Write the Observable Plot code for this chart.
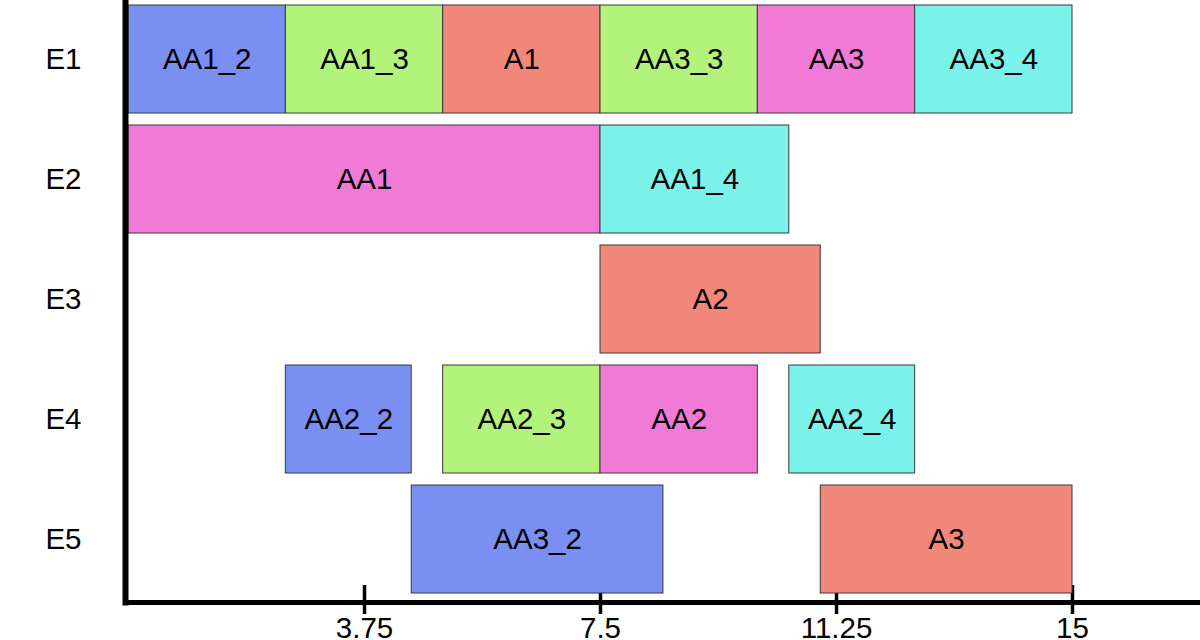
<!DOCTYPE html>
<html>
<head>
<meta charset="utf-8">
<script src="https://cdn.jsdelivr.net/npm/d3@7"></script>
<script src="https://cdn.jsdelivr.net/npm/@observablehq/plot@0.6"></script>
<style>
  html, body { margin: 0; padding: 0; background: #fff; }
  #chart { width: 1200px; height: 640px; }
</style>
</head>
<body>
<div id="chart"></div>
<script>
// Data
const rows   = ["E1","E1","E1","E1","E1","E1","E2","E2","E3","E4","E4","E4","E4","E5","E5"];
const labels = ["AA1_2","AA1_3","A1","AA3_3","AA3","AA3_4","AA1","AA1_4","A2","AA2_2","AA2_3","AA2","AA2_4","AA3_2","A3"];
const starts = [0, 2.5, 5, 7.5, 10, 12.5, 0, 7.5, 7.5, 2.5, 5, 7.5, 10.5, 4.5, 11];
const ends   = [2.5, 5, 7.5, 10, 12.5, 15, 7.5, 10.5, 11, 4.5, 7.5, 10, 12.5, 8.5, 15];
const kinds  = ["_2","_3","A","_3","AA","_4","AA","_4","A","_2","_3","AA","_4","_2","A"];
const rowNames = ["E1","E2","E3","E4","E5"];
const kindNames = ["_2","_3","A","AA","_4"];
const kindColors = ["#798ff1","#b3f27b","#f2887a","#f27ad7","#7af2ea"];
const xTicks = [3.75, 7.5, 11.25, 15];

const data = labels.map((l, i) => ({label: l, row: rows[i], x1: starts[i], x2: ends[i], kind: kinds[i]}));

const font = "'Liberation Sans', Arial, sans-serif";
const fs = 29.5;

const chart = Plot.plot({
  width: 1200,
  height: 640,
  marginLeft: 125,
  marginRight: 0,
  marginTop: 0,
  marginBottom: 38,
  style: {fontFamily: font, fontSize: fs + "px", background: "#fff", color: "#000"},
  x: {domain: [0, 15], range: [128, 1072], label: null},
  y: {domain: rowNames, range: [-1, 599], paddingInner: 0.1, paddingOuter: 0.05, label: null},
  color: {domain: kindNames, range: kindColors},
  marks: [
    Plot.ruleX(xTicks, {x: d => d, stroke: "#000", strokeWidth: 3.5, insetTop: 585, insetBottom: -12}),
    Plot.barX(data, {x1: "x1", x2: "x2", y: "row", fill: "kind", stroke: "#3a3a3a", strokeWidth: 1}),
    Plot.text(data, {x: d => (d.x1 + d.x2) / 2, y: "row", text: "label", fill: "#000", fontSize: fs}),
    Plot.frame({anchor: "left", stroke: "#000", strokeWidth: 6}),
    Plot.frame({anchor: "bottom", stroke: "#000", strokeWidth: 5}),
    Plot.axisX(xTicks, {tickSize: 0, tickPadding: 15, fontSize: fs, label: null, tickFormat: d => String(d)}),
    Plot.axisY({tickSize: 0, tickPadding: 44, fontSize: fs, label: null})
  ]
});
document.getElementById("chart").append(chart);
</script>
</body>
</html>
